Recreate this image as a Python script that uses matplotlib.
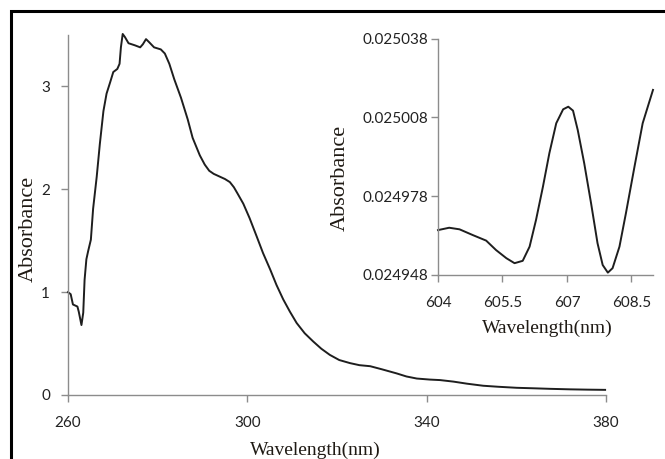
import matplotlib
matplotlib.use("Agg")
import matplotlib.pyplot as plt
from matplotlib.lines import Line2D

# ---- main spectrum ----
wavelength = [260.0, 260.6, 261.1, 262.1, 262.4, 263.0, 263.4, 263.7, 264.1, 264.5,
              265.1, 265.6, 266.4, 267.1, 267.9, 268.6, 269.4, 270.1, 271.0, 271.5,
              271.8, 272.2, 272.7, 273.5, 274.9, 276.1, 276.7, 277.4, 278.1, 279.2,
              280.7, 281.6, 282.6, 283.7, 285.2, 286.7, 287.8, 289.4, 290.5, 291.5,
              292.5, 293.5, 295.0, 296.1, 297.0, 297.8, 299.1, 300.5, 302.1, 303.5,
              305.1, 306.5, 308.0, 309.5, 311.0, 312.8, 314.7, 316.5, 318.4, 320.5,
              322.9, 325.0, 327.4, 330.0, 333.3, 335.5, 337.8, 340.7, 343.0, 346.0,
              349.0, 352.6, 356.0, 360.1, 364.0, 367.5, 372.0, 376.0, 379.8]
absorbance = [1.00, 0.98, 0.88, 0.86, 0.81, 0.68, 0.80, 1.12, 1.32, 1.40,
              1.51, 1.81, 2.12, 2.44, 2.76, 2.93, 3.04, 3.14, 3.17, 3.22,
              3.38, 3.51, 3.48, 3.42, 3.40, 3.38, 3.41, 3.46, 3.43, 3.38,
              3.36, 3.32, 3.22, 3.07, 2.89, 2.68, 2.50, 2.33, 2.24, 2.18,
              2.15, 2.13, 2.10, 2.07, 2.02, 1.96, 1.86, 1.72, 1.54, 1.38,
              1.22, 1.07, 0.93, 0.81, 0.70, 0.60, 0.52, 0.45, 0.39, 0.34,
              0.31, 0.29, 0.28, 0.25, 0.21, 0.18, 0.16, 0.15, 0.145, 0.13,
              0.11, 0.09, 0.08, 0.07, 0.065, 0.06, 0.055, 0.052, 0.05]
main_xticks = [260, 300, 340, 380]
main_yticks = [0, 1, 2, 3]

# ---- inset ----
inset_wl = [604.0, 604.26, 604.50, 604.81, 605.12, 605.35, 605.59, 605.78, 605.97, 606.13,
            606.28, 606.44, 606.59, 606.75, 606.91, 607.03, 607.14, 607.25, 607.40, 607.56,
            607.71, 607.83, 607.95, 608.06, 608.22, 608.37, 608.57, 608.76, 609.0]
inset_abs = [0.0249651, 0.0249660, 0.0249654, 0.0249632, 0.0249611, 0.0249575, 0.0249544,
             0.0249525, 0.0249534, 0.0249588, 0.0249690, 0.0249816, 0.0249944, 0.0250058,
             0.0250111, 0.0250121, 0.0250106, 0.0250032, 0.0249906, 0.0249753, 0.0249601,
             0.0249518, 0.0249489, 0.0249506, 0.0249588, 0.0249715, 0.0249893, 0.0250058,
             0.0250185]
inset_xticks = [604, 605.5, 607, 608.5]
inset_xticklabels = ["604", "605.5", "607", "608.5"]
inset_yticks = [0.024948, 0.024978, 0.025008, 0.025038]
inset_yticklabels = ["0.024948", "0.024978", "0.025008", "0.025038"]

W, H = 665, 459
fig = plt.figure(figsize=(W / 100, H / 100), dpi=100)

tick_font = "Lato"
label_font = "Liberation Serif"
axis_gray = "#8c8c8c"
tick_col = "#222222"
label_col = "#1f1a14"
line_col = "#1e1e1e"


def px_axes(l, r, t, b):
    return [l / W, 1 - b / H, (r - l) / W, (b - t) / H]


def style(ax):
    for s in ("top", "right"):
        ax.spines[s].set_visible(False)
    for s in ("left", "bottom"):
        ax.spines[s].set_color(axis_gray)
        ax.spines[s].set_linewidth(1.0)
    ax.tick_params(direction="out", length=5, width=1.0, color=axis_gray,
                   labelcolor=tick_col, labelsize=11)
    for lab in ax.get_xticklabels() + ax.get_yticklabels():
        lab.set_fontfamily(tick_font)


# main axes
ax = fig.add_axes(px_axes(68, 606, 35, 395))
ax.plot(wavelength, absorbance, color=line_col, lw=1.4, clip_on=False)
ax.set_xlim(260, 380)
ax.set_ylim(0, 3.5)
ax.set_xticks(main_xticks)
ax.set_yticks(main_yticks)
style(ax)
ax.tick_params(axis="x", pad=10)
ax.tick_params(axis="y", pad=8)
ax.text(-0.074, 0.46, "Absorbance", transform=ax.transAxes, rotation=90,
        ha="center", va="center", fontsize=16, family=label_font, color=label_col)
ax.text(0.459, -0.153, "Wavelength(nm)", transform=ax.transAxes,
        ha="center", va="center", fontsize=14, family=label_font, color=label_col)

# inset axes
axi = fig.add_axes(px_axes(438, 653, 38.7, 275))
axi.plot(inset_wl, inset_abs, color=line_col, lw=1.4, clip_on=False)
axi.set_xlim(604, 609)
axi.set_ylim(0.024948, 0.025038)
axi.set_xticks(inset_xticks)
axi.set_xticklabels(inset_xticklabels)
axi.set_yticks(inset_yticks)
axi.set_yticklabels(inset_yticklabels)
style(axi)
axi.tick_params(axis="x", pad=10)
axi.tick_params(axis="y", pad=2)
axi.text(-0.456, 0.41, "Absorbance", transform=axi.transAxes, rotation=90,
         ha="center", va="center", fontsize=16, family=label_font, color=label_col)
axi.text(0.509, -0.225, "Wavelength(nm)", transform=axi.transAxes,
         ha="center", va="center", fontsize=14, family=label_font, color=label_col)

# outer frame: only top and left edges are visible in the reference
fx, fy = 10.5 / W, 1 - 11 / H
fig.lines.append(Line2D([fx, fx, 1.0], [0.0, fy, fy], transform=fig.transFigure,
                        color="black", lw=2.2, solid_joinstyle="miter"))

fig.savefig("out.png", dpi=100)
